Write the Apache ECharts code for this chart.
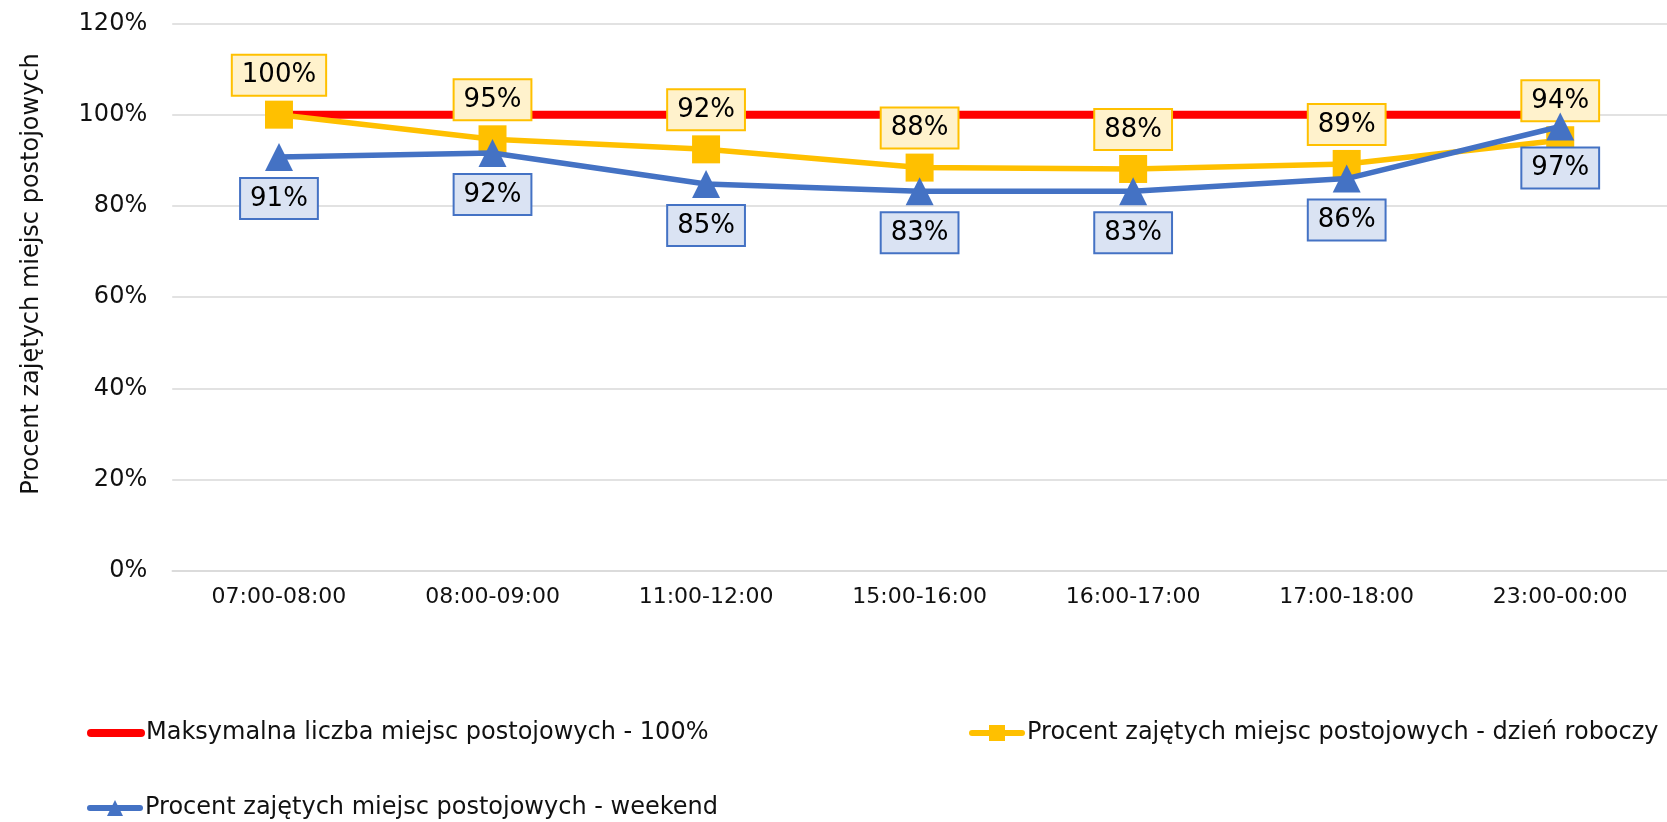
<!DOCTYPE html>
<html>
<head>
<meta charset="utf-8">
<script src="https://cdn.jsdelivr.net/npm/echarts@6/dist/echarts.min.js"></script>
<style>
html,body{margin:0;padding:0;background:#fff;}
#c{width:1667px;height:822px;}
</style>
</head>
<body>
<div id="c"></div>
<script>
const categories = ['07:00-08:00','08:00-09:00','11:00-12:00','15:00-16:00','16:00-17:00','17:00-18:00','23:00-00:00'];
const maxCapacity = [100,100,100,100,100,100,100];
const weekday = [100, 94.6, 92.4, 88.4, 88.1, 89.2, 94.4];
const weekend = [90.7, 91.6, 84.8, 83.2, 83.2, 86.0, 97.4];
const seriesNames = [
  'Maksymalna liczba miejsc postojowych - 100%',
  'Procent zajętych miejsc postojowych - dzień roboczy',
  'Procent zajętych miejsc postojowych - weekend'
];
const yAxisTitle = 'Procent zajętych miejsc postojowych';
const yMin = 0, yMax = 120, yStep = 20;

const FONT = 'DejaVu Sans';
const TXT = '#111';
const chart = echarts.init(document.getElementById('c'));
const fmt = p => Math.round(p.value) + '%';

function legendCfg(name, left, top, lw, hideSymbol) {
  return {
    data: [name], left: left, top: top, itemWidth: 50, itemHeight: 20, itemGap: 0,
    lineStyle: {width: lw, cap: 'round'},
    itemStyle: hideSymbol ? {opacity: 0} : {},
    textStyle: {fontSize: 24, fontFamily: FONT, color: TXT}
  };
}

chart.setOption({
  backgroundColor: '#fff',
  animation: false,
  textStyle: {fontFamily: FONT},
  grid: {left: 172.2, width: 1503, top: 23.4, height: 547.6, containLabel: false},
  graphic: [{
    type: 'text', x: 32, y: 274, rotation: Math.PI / 2,
    style: {text: yAxisTitle, font: '24px ' + FONT, fill: TXT, textAlign: 'center', textVerticalAlign: 'middle'}
  }],
  legend: [
    legendCfg(seriesNames[0], 82, 716, 8, true),
    legendCfg(seriesNames[1], 964, 716, 6, false),
    legendCfg(seriesNames[2], 82, 791, 6, false)
  ],
  xAxis: {
    type: 'category', data: categories, boundaryGap: true,
    axisLine: {show: true, lineStyle: {color: '#d9d9d9', width: 1.5}},
    axisTick: {show: false},
    axisLabel: {fontSize: 22, fontFamily: FONT, color: TXT, margin: 15}
  },
  yAxis: {
    type: 'value', min: yMin, max: yMax, interval: yStep,
    axisLine: {show: false}, axisTick: {show: false},
    splitLine: {lineStyle: {color: '#d9d9d9', width: 1.5}},
    axisLabel: {fontSize: 24, fontFamily: FONT, color: TXT, margin: 25, formatter: v => v + '%'}
  },
  series: [
    {name: seriesNames[0], type: 'line', data: maxCapacity, symbol: 'none',
     lineStyle: {color: '#ff0000', width: 8}, itemStyle: {color: '#ff0000'}, z: 2},
    {name: seriesNames[1], type: 'line', data: weekday, symbol: 'rect', symbolSize: 28,
     lineStyle: {color: '#ffc000', width: 5.5}, itemStyle: {color: '#ffc000'}, z: 3,
     label: {show: true, position: 'top', distance: 6, formatter: fmt,
       fontSize: 26, lineHeight: 30, fontFamily: FONT, color: '#000', backgroundColor: '#fff2cc',
       borderColor: '#ffc000', borderWidth: 2, padding: [5, 9, 4, 9]}},
    {name: seriesNames[2], type: 'line', data: weekend, symbol: 'triangle', symbolSize: 28,
     lineStyle: {color: '#4472c4', width: 5.5}, itemStyle: {color: '#4472c4'}, z: 4,
     label: {show: true, position: 'bottom', distance: 8, formatter: fmt,
       fontSize: 26, lineHeight: 30, fontFamily: FONT, color: '#000', backgroundColor: '#dae3f3',
       borderColor: '#4472c4', borderWidth: 2, padding: [5, 9, 4, 9]}}
  ]
});
</script>
</body>
</html>
